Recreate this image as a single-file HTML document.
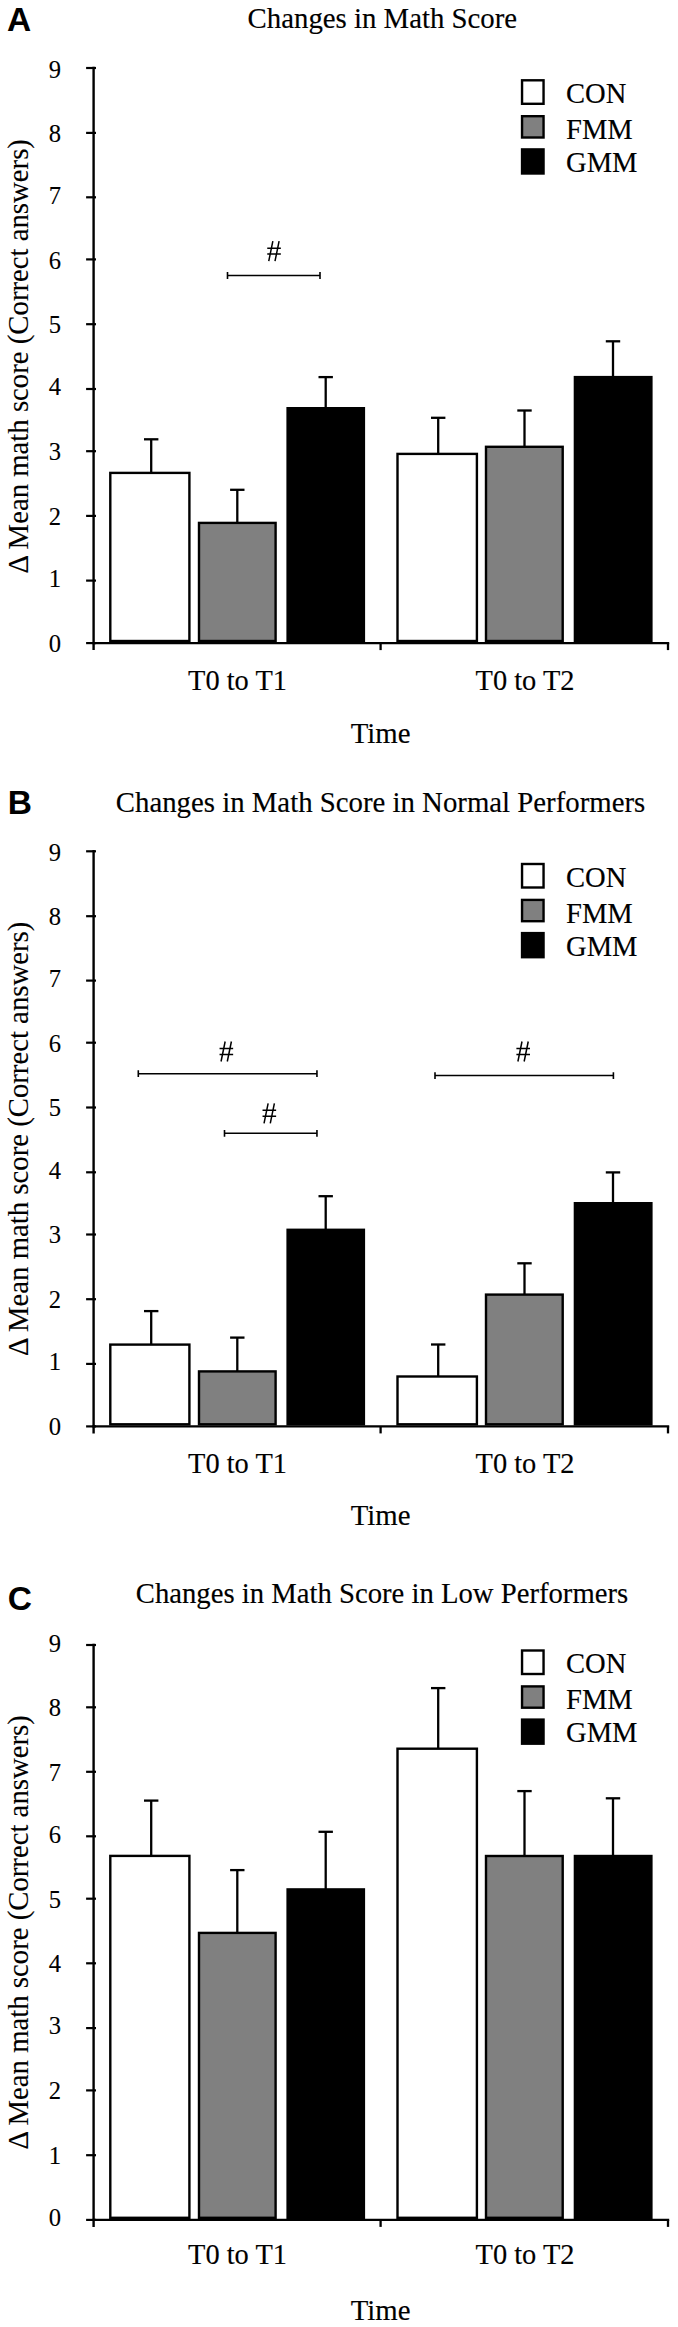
<!DOCTYPE html>
<html><head><meta charset="utf-8"><style>
html,body{margin:0;padding:0;background:#fff;}
body{width:678px;height:2327px;overflow:hidden;}
svg{display:block;}
.s{font-family:"Liberation Serif",serif;fill:#000;stroke:#000;stroke-width:0.15px;}
.d{stroke-width:0.1px;}
.L{font-family:"Liberation Sans",sans-serif;font-weight:bold;fill:#000;}
</style></head><body>
<svg width="678" height="2327" viewBox="0 0 678 2327">
<rect x="0" y="0" width="678" height="2327" fill="#fff"/>
<text x="7.1" y="31.0" class="L" font-size="33.5">A</text>
<text x="247.6" y="28.1" class="s" font-size="28.8">Changes in Math Score</text>
<line x1="93.6" y1="66.8" x2="93.6" y2="650.1" stroke="#000" stroke-width="2.4"/>
<line x1="86.1" y1="643.10" x2="96.0" y2="643.10" stroke="#000" stroke-width="2.2"/>
<text x="61" y="651.90" class="s d" font-size="24.6" text-anchor="end">0</text>
<line x1="86.1" y1="580.60" x2="96.0" y2="580.60" stroke="#000" stroke-width="2.2"/>
<text x="61" y="587.10" class="s d" font-size="24.6" text-anchor="end">1</text>
<line x1="86.1" y1="515.90" x2="96.0" y2="515.90" stroke="#000" stroke-width="2.2"/>
<text x="61" y="524.90" class="s d" font-size="24.6" text-anchor="end">2</text>
<line x1="86.1" y1="451.20" x2="96.0" y2="451.20" stroke="#000" stroke-width="2.2"/>
<text x="61" y="459.80" class="s d" font-size="24.6" text-anchor="end">3</text>
<line x1="86.1" y1="389.00" x2="96.0" y2="389.00" stroke="#000" stroke-width="2.2"/>
<text x="61" y="395.20" class="s d" font-size="24.6" text-anchor="end">4</text>
<line x1="86.1" y1="324.20" x2="96.0" y2="324.20" stroke="#000" stroke-width="2.2"/>
<text x="61" y="333.00" class="s d" font-size="24.6" text-anchor="end">5</text>
<line x1="86.1" y1="259.40" x2="96.0" y2="259.40" stroke="#000" stroke-width="2.2"/>
<text x="61" y="268.70" class="s d" font-size="24.6" text-anchor="end">6</text>
<line x1="86.1" y1="197.30" x2="96.0" y2="197.30" stroke="#000" stroke-width="2.2"/>
<text x="61" y="203.90" class="s d" font-size="24.6" text-anchor="end">7</text>
<line x1="86.1" y1="132.90" x2="96.0" y2="132.90" stroke="#000" stroke-width="2.2"/>
<text x="61" y="141.70" class="s d" font-size="24.6" text-anchor="end">8</text>
<line x1="86.1" y1="68.00" x2="96.0" y2="68.00" stroke="#000" stroke-width="2.2"/>
<text x="61" y="77.60" class="s d" font-size="24.6" text-anchor="end">9</text>
<line x1="92.39999999999999" y1="643.1" x2="669.2" y2="643.1" stroke="#000" stroke-width="2.4"/>
<line x1="380.6" y1="643.1" x2="380.6" y2="650.1" stroke="#000" stroke-width="2.3"/>
<line x1="668" y1="643.1" x2="668" y2="650.1" stroke="#000" stroke-width="2.3"/>
<line x1="151.20" y1="439.30" x2="151.20" y2="472.70" stroke="#000" stroke-width="2.3"/>
<line x1="144.00" y1="439.30" x2="158.40" y2="439.30" stroke="#000" stroke-width="2.3"/>
<rect x="110.30" y="472.90" width="79.10" height="168.10" fill="#fff" stroke="#000" stroke-width="2.4"/>
<line x1="237.30" y1="489.80" x2="237.30" y2="522.70" stroke="#000" stroke-width="2.3"/>
<line x1="230.10" y1="489.80" x2="244.50" y2="489.80" stroke="#000" stroke-width="2.3"/>
<rect x="199.00" y="522.90" width="76.60" height="118.10" fill="#808080" stroke="#000" stroke-width="2.4"/>
<line x1="325.70" y1="377.10" x2="325.70" y2="408.00" stroke="#000" stroke-width="2.3"/>
<line x1="318.50" y1="377.10" x2="332.90" y2="377.10" stroke="#000" stroke-width="2.3"/>
<rect x="287.60" y="408.20" width="76.30" height="232.80" fill="#000" stroke="#000" stroke-width="2.4"/>
<line x1="438.20" y1="417.80" x2="438.20" y2="453.70" stroke="#000" stroke-width="2.3"/>
<line x1="431.00" y1="417.80" x2="445.40" y2="417.80" stroke="#000" stroke-width="2.3"/>
<rect x="397.50" y="453.90" width="79.40" height="187.10" fill="#fff" stroke="#000" stroke-width="2.4"/>
<line x1="524.50" y1="410.50" x2="524.50" y2="446.60" stroke="#000" stroke-width="2.3"/>
<line x1="517.30" y1="410.50" x2="531.70" y2="410.50" stroke="#000" stroke-width="2.3"/>
<rect x="486.00" y="446.80" width="76.70" height="194.20" fill="#808080" stroke="#000" stroke-width="2.4"/>
<line x1="613.00" y1="341.30" x2="613.00" y2="376.90" stroke="#000" stroke-width="2.3"/>
<line x1="605.80" y1="341.30" x2="620.20" y2="341.30" stroke="#000" stroke-width="2.3"/>
<rect x="574.90" y="377.10" width="76.50" height="263.90" fill="#000" stroke="#000" stroke-width="2.4"/>
<path d="M227.5 275.5H320.0" stroke="#000" stroke-width="1.5" fill="none"/>
<path d="M227.5 272.1V278.9M320.0 272.1V278.9" stroke="#000" stroke-width="1.6" fill="none"/>
<path d="M272.85 241.20L268.75 261.20M279.10 241.20L275.00 261.20M267.25 248.20H280.85M267.25 254.10H280.85" stroke="#000" stroke-width="1.5" fill="none"/>
<rect x="522.05" y="80.30" width="21.50" height="23.50" fill="#fff" stroke="#000" stroke-width="2.4"/>
<text x="566" y="103.10" class="s" font-size="28.6">CON</text>
<rect x="522.05" y="116.20" width="21.50" height="21.30" fill="#808080" stroke="#000" stroke-width="2.4"/>
<text x="566" y="139.00" class="s" font-size="28.6">FMM</text>
<rect x="522.05" y="149.40" width="21.50" height="24.10" fill="#000" stroke="#000" stroke-width="2.4"/>
<text x="566" y="171.90" class="s" font-size="28.6">GMM</text>
<text x="237.5" y="690.1" class="s" font-size="28.4" text-anchor="middle">T0 to T1</text>
<text x="525" y="690.1" class="s" font-size="28.4" text-anchor="middle">T0 to T2</text>
<text x="380.6" y="742.5" class="s" font-size="28.8" text-anchor="middle">Time</text>
<text transform="translate(27.6,356.3) rotate(-90)" class="s d" font-size="28.75" text-anchor="middle">Δ Mean math score (Correct answers)</text>
<text x="7.8" y="814.4" class="L" font-size="33.5">B</text>
<text x="115.8" y="811.8" class="s" font-size="28.8">Changes in Math Score in Normal Performers</text>
<line x1="93.6" y1="850.0999999999999" x2="93.6" y2="1433.4" stroke="#000" stroke-width="2.4"/>
<line x1="86.1" y1="1426.40" x2="96.0" y2="1426.40" stroke="#000" stroke-width="2.2"/>
<text x="61" y="1435.20" class="s d" font-size="24.6" text-anchor="end">0</text>
<line x1="86.1" y1="1363.90" x2="96.0" y2="1363.90" stroke="#000" stroke-width="2.2"/>
<text x="61" y="1370.40" class="s d" font-size="24.6" text-anchor="end">1</text>
<line x1="86.1" y1="1299.20" x2="96.0" y2="1299.20" stroke="#000" stroke-width="2.2"/>
<text x="61" y="1308.20" class="s d" font-size="24.6" text-anchor="end">2</text>
<line x1="86.1" y1="1234.50" x2="96.0" y2="1234.50" stroke="#000" stroke-width="2.2"/>
<text x="61" y="1243.10" class="s d" font-size="24.6" text-anchor="end">3</text>
<line x1="86.1" y1="1172.30" x2="96.0" y2="1172.30" stroke="#000" stroke-width="2.2"/>
<text x="61" y="1178.50" class="s d" font-size="24.6" text-anchor="end">4</text>
<line x1="86.1" y1="1107.50" x2="96.0" y2="1107.50" stroke="#000" stroke-width="2.2"/>
<text x="61" y="1116.30" class="s d" font-size="24.6" text-anchor="end">5</text>
<line x1="86.1" y1="1042.70" x2="96.0" y2="1042.70" stroke="#000" stroke-width="2.2"/>
<text x="61" y="1052.00" class="s d" font-size="24.6" text-anchor="end">6</text>
<line x1="86.1" y1="980.60" x2="96.0" y2="980.60" stroke="#000" stroke-width="2.2"/>
<text x="61" y="987.20" class="s d" font-size="24.6" text-anchor="end">7</text>
<line x1="86.1" y1="916.20" x2="96.0" y2="916.20" stroke="#000" stroke-width="2.2"/>
<text x="61" y="925.00" class="s d" font-size="24.6" text-anchor="end">8</text>
<line x1="86.1" y1="851.30" x2="96.0" y2="851.30" stroke="#000" stroke-width="2.2"/>
<text x="61" y="860.90" class="s d" font-size="24.6" text-anchor="end">9</text>
<line x1="92.39999999999999" y1="1426.4" x2="669.2" y2="1426.4" stroke="#000" stroke-width="2.4"/>
<line x1="380.6" y1="1426.4" x2="380.6" y2="1433.4" stroke="#000" stroke-width="2.3"/>
<line x1="668" y1="1426.4" x2="668" y2="1433.4" stroke="#000" stroke-width="2.3"/>
<line x1="151.20" y1="1311.10" x2="151.20" y2="1344.40" stroke="#000" stroke-width="2.3"/>
<line x1="144.00" y1="1311.10" x2="158.40" y2="1311.10" stroke="#000" stroke-width="2.3"/>
<rect x="110.30" y="1344.60" width="79.10" height="79.70" fill="#fff" stroke="#000" stroke-width="2.4"/>
<line x1="237.30" y1="1337.60" x2="237.30" y2="1371.20" stroke="#000" stroke-width="2.3"/>
<line x1="230.10" y1="1337.60" x2="244.50" y2="1337.60" stroke="#000" stroke-width="2.3"/>
<rect x="199.00" y="1371.40" width="76.60" height="52.90" fill="#808080" stroke="#000" stroke-width="2.4"/>
<line x1="325.70" y1="1196.20" x2="325.70" y2="1229.60" stroke="#000" stroke-width="2.3"/>
<line x1="318.50" y1="1196.20" x2="332.90" y2="1196.20" stroke="#000" stroke-width="2.3"/>
<rect x="287.60" y="1229.80" width="76.30" height="194.50" fill="#000" stroke="#000" stroke-width="2.4"/>
<line x1="438.20" y1="1344.50" x2="438.20" y2="1376.30" stroke="#000" stroke-width="2.3"/>
<line x1="431.00" y1="1344.50" x2="445.40" y2="1344.50" stroke="#000" stroke-width="2.3"/>
<rect x="397.50" y="1376.50" width="79.40" height="47.80" fill="#fff" stroke="#000" stroke-width="2.4"/>
<line x1="524.50" y1="1263.30" x2="524.50" y2="1294.40" stroke="#000" stroke-width="2.3"/>
<line x1="517.30" y1="1263.30" x2="531.70" y2="1263.30" stroke="#000" stroke-width="2.3"/>
<rect x="486.00" y="1294.60" width="76.70" height="129.70" fill="#808080" stroke="#000" stroke-width="2.4"/>
<line x1="613.00" y1="1172.40" x2="613.00" y2="1203.00" stroke="#000" stroke-width="2.3"/>
<line x1="605.80" y1="1172.40" x2="620.20" y2="1172.40" stroke="#000" stroke-width="2.3"/>
<rect x="574.90" y="1203.20" width="76.50" height="221.10" fill="#000" stroke="#000" stroke-width="2.4"/>
<path d="M138.3 1073.7H316.95" stroke="#000" stroke-width="1.5" fill="none"/>
<path d="M138.3 1070.3V1077.1000000000001M316.95 1070.3V1077.1000000000001" stroke="#000" stroke-width="1.6" fill="none"/>
<path d="M225.15 1041.50L221.05 1061.50M231.40 1041.50L227.30 1061.50M219.55 1048.50H233.15M219.55 1054.40H233.15" stroke="#000" stroke-width="1.5" fill="none"/>
<path d="M224.5 1133.3H316.95" stroke="#000" stroke-width="1.5" fill="none"/>
<path d="M224.5 1129.8999999999999V1136.7M316.95 1129.8999999999999V1136.7" stroke="#000" stroke-width="1.6" fill="none"/>
<path d="M268.13 1103.30L264.03 1123.30M274.38 1103.30L270.28 1123.30M262.53 1110.30H276.13M262.53 1116.20H276.13" stroke="#000" stroke-width="1.5" fill="none"/>
<path d="M435.0 1075.6H613.4" stroke="#000" stroke-width="1.5" fill="none"/>
<path d="M435.0 1072.1999999999998V1079.0M613.4 1072.1999999999998V1079.0" stroke="#000" stroke-width="1.6" fill="none"/>
<path d="M522.00 1041.50L517.90 1061.50M528.25 1041.50L524.15 1061.50M516.40 1048.50H530.00M516.40 1054.40H530.00" stroke="#000" stroke-width="1.5" fill="none"/>
<rect x="522.05" y="864.00" width="21.50" height="23.50" fill="#fff" stroke="#000" stroke-width="2.4"/>
<text x="566" y="886.80" class="s" font-size="28.6">CON</text>
<rect x="522.05" y="899.90" width="21.50" height="21.30" fill="#808080" stroke="#000" stroke-width="2.4"/>
<text x="566" y="922.70" class="s" font-size="28.6">FMM</text>
<rect x="522.05" y="933.10" width="21.50" height="24.10" fill="#000" stroke="#000" stroke-width="2.4"/>
<text x="566" y="955.60" class="s" font-size="28.6">GMM</text>
<text x="237.5" y="1473.0" class="s" font-size="28.4" text-anchor="middle">T0 to T1</text>
<text x="525" y="1473.0" class="s" font-size="28.4" text-anchor="middle">T0 to T2</text>
<text x="380.6" y="1525.4" class="s" font-size="28.8" text-anchor="middle">Time</text>
<text transform="translate(27.6,1138.9) rotate(-90)" class="s d" font-size="28.75" text-anchor="middle">Δ Mean math score (Correct answers)</text>
<text x="7.8" y="1610.4" class="L" font-size="33.5">C</text>
<text x="135.8" y="1603.1" class="s" font-size="28.7">Changes in Math Score in Low Performers</text>
<line x1="93.6" y1="1643.8" x2="93.6" y2="2226.9" stroke="#000" stroke-width="2.4"/>
<line x1="86.1" y1="2219.90" x2="96.0" y2="2219.90" stroke="#000" stroke-width="2.2"/>
<text x="61" y="2226.10" class="s d" font-size="24.6" text-anchor="end">0</text>
<line x1="86.1" y1="2155.20" x2="96.0" y2="2155.20" stroke="#000" stroke-width="2.2"/>
<text x="61" y="2163.90" class="s d" font-size="24.6" text-anchor="end">1</text>
<line x1="86.1" y1="2090.40" x2="96.0" y2="2090.40" stroke="#000" stroke-width="2.2"/>
<text x="61" y="2098.60" class="s d" font-size="24.6" text-anchor="end">2</text>
<line x1="86.1" y1="2028.10" x2="96.0" y2="2028.10" stroke="#000" stroke-width="2.2"/>
<text x="61" y="2033.80" class="s d" font-size="24.6" text-anchor="end">3</text>
<line x1="86.1" y1="1963.30" x2="96.0" y2="1963.30" stroke="#000" stroke-width="2.2"/>
<text x="61" y="1971.70" class="s d" font-size="24.6" text-anchor="end">4</text>
<line x1="86.1" y1="1898.70" x2="96.0" y2="1898.70" stroke="#000" stroke-width="2.2"/>
<text x="61" y="1907.80" class="s d" font-size="24.6" text-anchor="end">5</text>
<line x1="86.1" y1="1836.30" x2="96.0" y2="1836.30" stroke="#000" stroke-width="2.2"/>
<text x="61" y="1842.50" class="s d" font-size="24.6" text-anchor="end">6</text>
<line x1="86.1" y1="1771.80" x2="96.0" y2="1771.80" stroke="#000" stroke-width="2.2"/>
<text x="61" y="1780.80" class="s d" font-size="24.6" text-anchor="end">7</text>
<line x1="86.1" y1="1707.30" x2="96.0" y2="1707.30" stroke="#000" stroke-width="2.2"/>
<text x="61" y="1715.60" class="s d" font-size="24.6" text-anchor="end">8</text>
<line x1="86.1" y1="1645.00" x2="96.0" y2="1645.00" stroke="#000" stroke-width="2.2"/>
<text x="61" y="1651.70" class="s d" font-size="24.6" text-anchor="end">9</text>
<line x1="92.39999999999999" y1="2219.9" x2="669.2" y2="2219.9" stroke="#000" stroke-width="2.4"/>
<line x1="380.6" y1="2219.9" x2="380.6" y2="2226.9" stroke="#000" stroke-width="2.3"/>
<line x1="668" y1="2219.9" x2="668" y2="2226.9" stroke="#000" stroke-width="2.3"/>
<line x1="151.20" y1="1800.60" x2="151.20" y2="1855.70" stroke="#000" stroke-width="2.3"/>
<line x1="144.00" y1="1800.60" x2="158.40" y2="1800.60" stroke="#000" stroke-width="2.3"/>
<rect x="110.30" y="1855.90" width="79.10" height="361.90" fill="#fff" stroke="#000" stroke-width="2.4"/>
<line x1="237.30" y1="1870.10" x2="237.30" y2="1932.70" stroke="#000" stroke-width="2.3"/>
<line x1="230.10" y1="1870.10" x2="244.50" y2="1870.10" stroke="#000" stroke-width="2.3"/>
<rect x="199.00" y="1932.90" width="76.60" height="284.90" fill="#808080" stroke="#000" stroke-width="2.4"/>
<line x1="325.70" y1="1831.80" x2="325.70" y2="1889.20" stroke="#000" stroke-width="2.3"/>
<line x1="318.50" y1="1831.80" x2="332.90" y2="1831.80" stroke="#000" stroke-width="2.3"/>
<rect x="287.60" y="1889.40" width="76.30" height="328.40" fill="#000" stroke="#000" stroke-width="2.4"/>
<line x1="438.20" y1="1688.10" x2="438.20" y2="1748.50" stroke="#000" stroke-width="2.3"/>
<line x1="431.00" y1="1688.10" x2="445.40" y2="1688.10" stroke="#000" stroke-width="2.3"/>
<rect x="397.50" y="1748.70" width="79.40" height="469.10" fill="#fff" stroke="#000" stroke-width="2.4"/>
<line x1="524.50" y1="1791.10" x2="524.50" y2="1855.80" stroke="#000" stroke-width="2.3"/>
<line x1="517.30" y1="1791.10" x2="531.70" y2="1791.10" stroke="#000" stroke-width="2.3"/>
<rect x="486.00" y="1856.00" width="76.70" height="361.80" fill="#808080" stroke="#000" stroke-width="2.4"/>
<line x1="613.00" y1="1798.30" x2="613.00" y2="1855.80" stroke="#000" stroke-width="2.3"/>
<line x1="605.80" y1="1798.30" x2="620.20" y2="1798.30" stroke="#000" stroke-width="2.3"/>
<rect x="574.90" y="1856.00" width="76.50" height="361.80" fill="#000" stroke="#000" stroke-width="2.4"/>
<rect x="522.05" y="1650.50" width="21.50" height="23.50" fill="#fff" stroke="#000" stroke-width="2.4"/>
<text x="566" y="1673.30" class="s" font-size="28.6">CON</text>
<rect x="522.05" y="1686.40" width="21.50" height="21.30" fill="#808080" stroke="#000" stroke-width="2.4"/>
<text x="566" y="1709.20" class="s" font-size="28.6">FMM</text>
<rect x="522.05" y="1719.60" width="21.50" height="24.10" fill="#000" stroke="#000" stroke-width="2.4"/>
<text x="566" y="1742.10" class="s" font-size="28.6">GMM</text>
<text x="237.5" y="2264.2" class="s" font-size="28.4" text-anchor="middle">T0 to T1</text>
<text x="525" y="2264.2" class="s" font-size="28.4" text-anchor="middle">T0 to T2</text>
<text x="380.6" y="2319.5" class="s" font-size="28.8" text-anchor="middle">Time</text>
<text transform="translate(27.6,1932.4) rotate(-90)" class="s d" font-size="28.75" text-anchor="middle">Δ Mean math score (Correct answers)</text>
</svg>
</body></html>
